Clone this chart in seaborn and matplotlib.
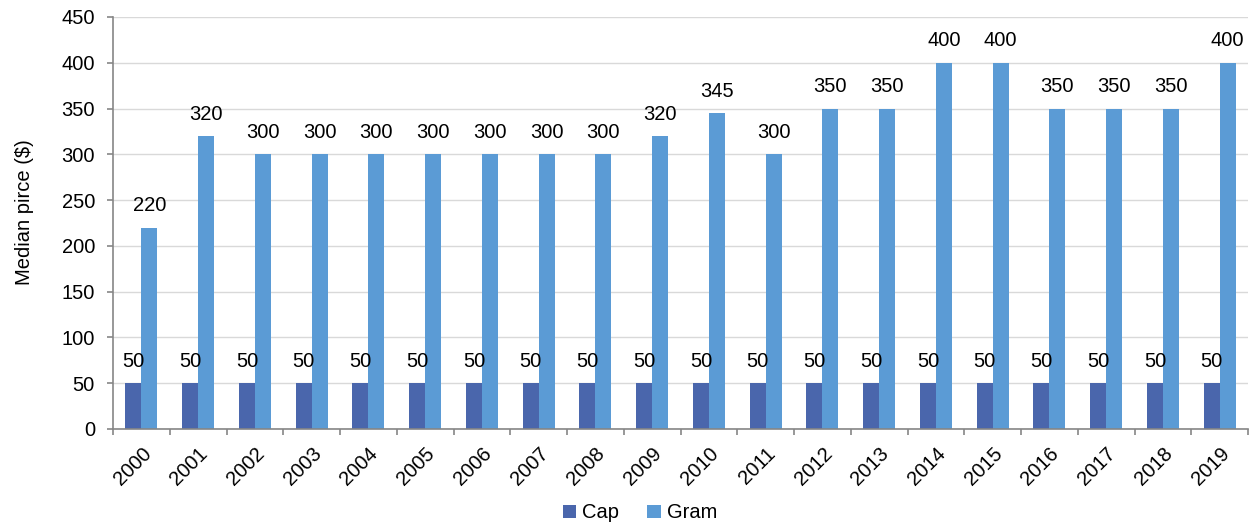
import numpy as np
import pandas as pd
import matplotlib
matplotlib.use("Agg")
import matplotlib.pyplot as plt
import seaborn as sns

years = [str(y) for y in range(2000, 2020)]
cap = [50] * 20
gram = [220, 320, 300, 300, 300, 300, 300, 300, 300, 320,
        345, 300, 350, 350, 400, 400, 350, 350, 350, 400]
series_names = ["Cap", "Gram"]
colors = ["#4A66AC", "#5B9BD5"]
y_ticks = list(range(0, 451, 50))

df = pd.DataFrame({
    "Year": years * 2,
    "Series": [series_names[0]] * len(years) + [series_names[1]] * len(years),
    "Price": cap + gram,
})

sns.set_theme(style="white")
plt.rcParams["font.family"] = ["Liberation Sans", "DejaVu Sans"]
plt.rcParams["text.color"] = "black"
plt.rcParams["axes.labelcolor"] = "black"
plt.rcParams["xtick.labelcolor"] = "black"
plt.rcParams["ytick.labelcolor"] = "black"

FS = 14.5

fig = plt.figure(figsize=(12.56, 5.30), dpi=100)
ax = fig.add_axes([113 / 1256, 1 - 429 / 530, (1248 - 113) / 1256, (429 - 17) / 530])

sns.barplot(data=df, x="Year", y="Price", hue="Series", order=years,
            hue_order=series_names, palette=colors, width=0.56,
            saturation=1, ax=ax, legend=True, edgecolor="none")

for cont in ax.containers:
    ax.bar_label(cont, labels=[f"{v:g}" for v in cont.datavalues],
                 padding=9, fontsize=FS, color="black")

ax.set_xlim(-0.5, len(years) - 0.5)
ax.set_ylim(0, 450)
ax.set_yticks(y_ticks)
ax.yaxis.grid(True, color="#D9D9D9", linewidth=1)
ax.set_axisbelow(True)

for s in ["top", "right"]:
    ax.spines[s].set_visible(False)
for s in ["left", "bottom"]:
    ax.spines[s].set_color("#868686")
    ax.spines[s].set_linewidth(1.2)

# category labels at centers, tick marks at category boundaries
ax.set_xticks(range(len(years)))
ax.set_xticklabels(years, rotation=45, ha="right", rotation_mode="anchor",
                   fontsize=FS)
ax.set_xticks(np.arange(-0.5, len(years), 1.0), minor=True)
ax.tick_params(axis="x", which="major", length=0, pad=11)
ax.tick_params(axis="x", which="minor", length=4, width=1.2, color="#868686",
               direction="out", bottom=True)
ax.tick_params(axis="y", length=4, width=1.2, color="#868686", direction="out",
               left=True, labelsize=FS, pad=9)

ax.set_xlabel("")
ax.set_ylabel("Median pirce ($)", fontsize=FS)
ax.yaxis.set_label_coords(-(113 - 34) / (1248 - 113), (429 - 212) / (429 - 17))

ax.legend(loc="center", bbox_to_anchor=((640 - 113) / (1248 - 113),
                                         -(513 - 429) / (429 - 17)),
          ncol=2, frameon=False, fontsize=FS, handlelength=0.65,
          handleheight=0.65, handletextpad=0.3, columnspacing=1.4)

fig.savefig("out.png", dpi=100)
